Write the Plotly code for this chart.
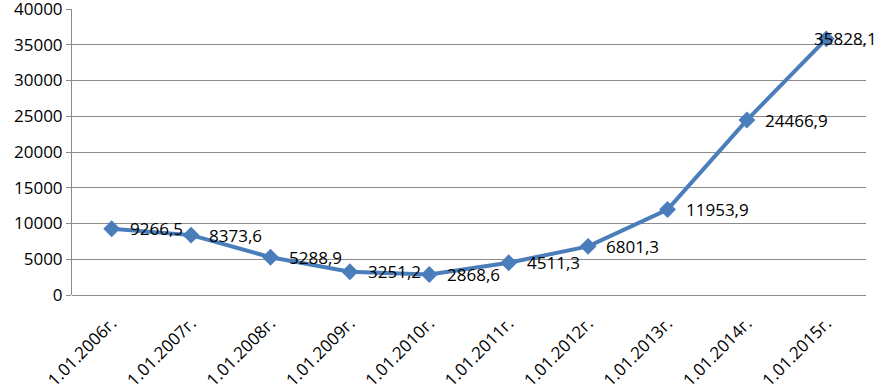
import plotly.graph_objects as go

categories = ["1.01.2006г.", "1.01.2007г.", "1.01.2008г.", "1.01.2009г.", "1.01.2010г.",
              "1.01.2011г.", "1.01.2012г.", "1.01.2013г.", "1.01.2014г.", "1.01.2015г."]
values = [9266.5, 8373.6, 5288.9, 3251.2, 2868.6, 4511.3, 6801.3, 11953.9, 24466.9, 35828.1]
labels = ["9266,5", "8373,6", "5288,9", "3251,2", "2868,6", "4511,3", "6801,3", "11953,9", "24466,9", "35828,1"]
y_ticks = [0, 5000, 10000, 15000, 20000, 25000, 30000, 35000, 40000]

FONT = "Open Sans, Liberation Sans, sans-serif"

fig = go.Figure()
fig.add_trace(go.Scatter(
    x=categories, y=values, mode="lines+markers",
    line=dict(color="#4A7EBB", width=4),
    marker=dict(symbol="diamond", size=13, color="#4A7EBB"),
    showlegend=False, hoverinfo="skip", cliponaxis=False,
))

annotations = []
for i, (c, v, t) in enumerate(zip(categories, values, labels)):
    last = i == len(categories) - 1
    annotations.append(dict(
        x=c, y=v, text=t, showarrow=False, xanchor="left", yanchor="middle",
        xshift=-14 if last else 16, font=dict(family=FONT, size=17, color="#000000"),
    ))

fig.update_layout(
    width=882, height=390,
    margin=dict(l=72, r=16, t=9, b=95),
    paper_bgcolor="white", plot_bgcolor="white",
    annotations=annotations,
    xaxis=dict(
        type="category", tickangle=-45, showgrid=False, automargin=False,
        showline=False, ticks="", ticklabelstandoff=14,
        tickfont=dict(family=FONT, size=17, color="#000000"),
        range=[-0.5, len(categories) - 0.5],
    ),
    yaxis=dict(
        range=[0, 40000], tickvals=y_ticks, ticktext=[str(v) for v in y_ticks],
        automargin=False, ticklabeloverflow="allow",
        showgrid=True, gridcolor="#8C8C8C", gridwidth=1,
        showline=True, linecolor="#8C8C8C", linewidth=1,
        ticks="outside", ticklen=5, tickcolor="#8C8C8C",
        zeroline=True, zerolinecolor="#8C8C8C", zerolinewidth=1,
        tickfont=dict(family=FONT, size=17, color="#000000"),
    ),
)

fig.write_html("out.html", config={"displayModeBar": False},
               post_script="document.body.style.margin='0';")
